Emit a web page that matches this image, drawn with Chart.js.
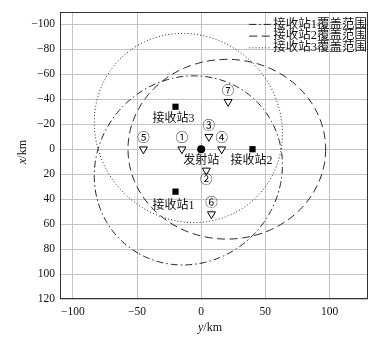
<!DOCTYPE html>
<html><head><meta charset="utf-8">
<script src="https://cdn.jsdelivr.net/npm/chart.js@4/dist/chart.umd.min.js"></script>
<style>html,body{margin:0;padding:0;background:#fff}</style>
</head><body>
<canvas id="c" width="376" height="340"></canvas>
<script>
// ---- data (horizontal axis = y/km, vertical axis = x/km) ----
const xTicks = [-100, -50, 0, 50, 100];
const yTicks = [-100, -80, -60, -40, -20, 0, 20, 40, 60, 80, 100, 120];
const transmitterName = ['发射站'];
const transmitterH = [0];
const transmitterV = [0];
const receiverNames = ['接收站1', '接收站2', '接收站3'];
const receiverH = [-20, 40, -20];
const receiverV = [34, 0, -34];
const targetLabels = ['①', '②', '③', '④', '⑤', '⑥', '⑦'];
const targetH = [-15, 4, 6, 16, -45, 8, 21];
const targetV = [0, 17, -10, 0, 0, 52, -38];
const coverageNames = ['接收站1覆盖范围', '接收站2覆盖范围', '接收站3覆盖范围'];
// oval semi-axes along / across the transmitter-receiver baseline (km)
const coverageAlong = [77, 77, 77];
const coverageAcross = [72, 72, 72];

const FONT = '"Liberation Serif", "Noto Sans CJK SC", serif';
const coverageDash = [[7, 3, 1.5, 3], [8, 4.5], [1, 2.2]];

const toPts = (hs, vs) => hs.map((h, i) => ({x: h, y: vs[i]}));

const coveragePlugin = {
  id: 'coverage',
  beforeDatasetsDraw(chart) {
    const {ctx, chartArea: a, scales: {x, y}} = chart;
    ctx.save();
    ctx.beginPath(); ctx.rect(a.left, a.top, a.right - a.left, a.bottom - a.top); ctx.clip();
    ctx.strokeStyle = '#222'; ctx.lineWidth = 1;
    receiverNames.forEach((_, i) => {
      const ch = (transmitterH[0] + receiverH[i]) / 2, cv = (transmitterV[0] + receiverV[i]) / 2;
      let dh = receiverH[i] - transmitterH[0], dv = receiverV[i] - transmitterV[0];
      const L = Math.hypot(dh, dv); dh /= L; dv /= L;
      const A = coverageAlong[i], B = coverageAcross[i];
      ctx.setLineDash(coverageDash[i]);
      ctx.beginPath();
      const N = 240;
      for (let k = 0; k <= N; k++) {
        const t = k / N * 2 * Math.PI;
        const h = ch + dh * A * Math.cos(t) - dv * B * Math.sin(t);
        const v = cv + dv * A * Math.cos(t) + dh * B * Math.sin(t);
        const px = x.getPixelForValue(h), py = y.getPixelForValue(v);
        if (k === 0) ctx.moveTo(px, py); else ctx.lineTo(px, py);
      }
      ctx.stroke();
    });
    ctx.restore();
  }
};

const labelPlugin = {
  id: 'labels',
  afterDatasetsDraw(chart) {
    const {ctx, chartArea: a, scales: {x, y}} = chart;
    ctx.save();
    ctx.fillStyle = '#111';
    ctx.textAlign = 'center'; ctx.textBaseline = 'middle';
    // station labels (below marker)
    ctx.font = '12px ' + FONT;
    ctx.fillText(transmitterName[0], x.getPixelForValue(transmitterH[0]), y.getPixelForValue(transmitterV[0]) + 12);
    const rOff = [14, 12, 12];
    receiverNames.forEach((n, i) => {
      ctx.fillText(n, x.getPixelForValue(receiverH[i]) - (i === 1 ? 1 : 2), y.getPixelForValue(receiverV[i]) + rOff[i]);
    });
    // target labels
    ctx.font = '12.5px ' + FONT;
    targetLabels.forEach((n, i) => {
      const below = n === '②';
      ctx.fillText(n, x.getPixelForValue(targetH[i]), y.getPixelForValue(targetV[i]) + (below ? 10 : -10.5));
    });
    // legend (inside plot, top-right)
    ctx.font = '12.5px ' + FONT;
    ctx.textAlign = 'right';
    coverageNames.forEach((n, i) => {
      const yy = a.top + 12.5 + i * 11.7;
      ctx.fillText(n, a.right - 1, yy);
      const w = ctx.measureText(n).width;
      const x1 = a.right - 1 - w - 2;
      ctx.strokeStyle = '#222'; ctx.lineWidth = 1;
      ctx.setLineDash(coverageDash[i]);
      ctx.beginPath(); ctx.moveTo(x1 - 22, yy); ctx.lineTo(x1, yy); ctx.stroke();
    });
    ctx.restore();
  },
  afterDraw(chart) {
    const {ctx, chartArea: a} = chart;
    ctx.save();
    ctx.setLineDash([]);
    ctx.strokeStyle = '#333'; ctx.lineWidth = 1;
    ctx.strokeRect(Math.round(a.left) + 0.5, Math.round(a.top) + 0.5, Math.round(a.right - a.left) - 1, Math.round(a.bottom - a.top) - 1);
    // axis titles
    ctx.fillStyle = '#111';
    ctx.textBaseline = 'middle';
    const drawTitle = (ix, iy, rot, v) => {
      ctx.save();
      ctx.translate(ix, iy); ctx.rotate(rot);
      ctx.font = 'italic 12px ' + FONT;
      const w1 = ctx.measureText(v).width;
      ctx.font = '12px ' + FONT;
      const w2 = ctx.measureText('/km').width;
      const s = -(w1 + w2) / 2;
      ctx.textAlign = 'left';
      ctx.font = 'italic 12px ' + FONT; ctx.fillText(v, s, 0);
      ctx.font = '12px ' + FONT; ctx.fillText('/km', s + w1, 0);
      ctx.restore();
    };
    drawTitle((a.left + a.right) / 2 - 4, 328, 0, 'y');
    drawTitle(23, 152, -Math.PI / 2, 'x');
    ctx.restore();
  }
};

const fmt = v => (v < 0 ? '\u2212' + Math.abs(v) : String(v));

new Chart(document.getElementById('c'), {
  type: 'scatter',
  data: {
    datasets: [
      {label: '发射站', data: toPts(transmitterH, transmitterV), pointStyle: 'circle', pointRadius: 4, backgroundColor: '#000', borderColor: '#000', borderWidth: 0},
      {label: '接收站', data: toPts(receiverH, receiverV), pointStyle: 'rect', pointRadius: 4.4, backgroundColor: '#000', borderColor: '#000', borderWidth: 0},
      {label: '目标', data: toPts(targetH, targetV), pointStyle: 'triangle', rotation: 180, pointRadius: 4.6, backgroundColor: '#fff', borderColor: '#000', borderWidth: 1}
    ]
  },
  options: {
    responsive: false, animation: false, devicePixelRatio: 1,
    layout: {padding: {top: 11, right: 8, left: 0, bottom: 0}},
    plugins: {legend: {display: false}, tooltip: {enabled: false}},
    scales: {
      x: {
        type: 'linear', min: -110, max: 130,
        afterBuildTicks: s => { s.ticks = xTicks.map(v => ({value: v})); },
        afterFit: s => { s.height = 41; },
        grid: {color: '#c4c4c4', drawTicks: false, lineWidth: 1},
        border: {display: false},
        ticks: {padding: 6, color: '#111', font: {family: FONT, size: 11.5}, callback: fmt, maxRotation: 0}
      },
      y: {
        type: 'linear', min: -110, max: 120, reverse: true,
        afterBuildTicks: s => { s.ticks = yTicks.map(v => ({value: v})); },
        afterFit: s => { s.width = 60; },
        grid: {color: '#c4c4c4', drawTicks: false, lineWidth: 1},
        border: {display: false},
        ticks: {padding: 5, color: '#111', font: {family: FONT, size: 11.5}, callback: fmt}
      }
    }
  },
  plugins: [coveragePlugin, labelPlugin]
});
</script>
</body></html>
